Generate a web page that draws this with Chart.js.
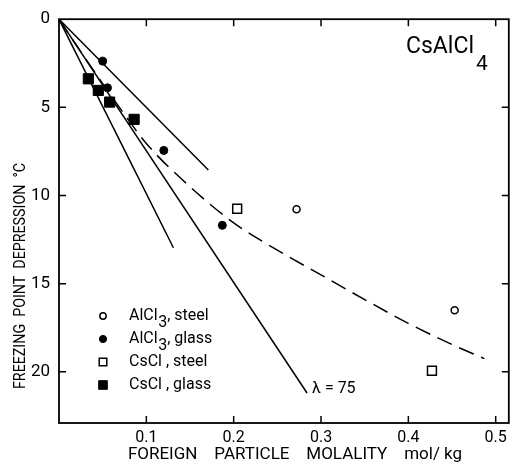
<!DOCTYPE html>
<html><head><meta charset="utf-8">
<script src="https://cdn.jsdelivr.net/npm/chart.js@4.4.1/dist/chart.umd.min.js"></script>
<style>html,body{margin:0;padding:0;background:#fff;} canvas{display:block;}</style>
</head><body>
<canvas id="c" width="517" height="472"></canvas>
<script>
// ---- data ----
const xTicks = [0.1, 0.2, 0.3, 0.4, 0.5];
const yTicks = [5, 10, 15, 20];
const alcl3SteelX = [0.272, 0.453];
const alcl3SteelY = [10.78, 16.5];
const alcl3GlassX = [0.050, 0.0555, 0.120, 0.187];
const alcl3GlassY = [2.38, 3.89, 7.44, 11.69];
const csclSteelX = [0.204, 0.427];
const csclSteelY = [10.75, 19.94];
const csclGlassX = [0.0336, 0.045, 0.058, 0.086];
const csclGlassY = [3.38, 4.04, 4.70, 5.68];
const line50X = [0, 0.171];
const line50Y = [0, 8.55];
const line100X = [0, 0.131];
const line100Y = [0, 12.96];
const line75X = [0, 0.284];
const line75Y = [0, 21.2];
const curveX = [0, 0.025, 0.05, 0.075, 0.1, 0.15, 0.2, 0.25, 0.3, 0.35, 0.4, 0.45, 0.487];
const curveY = [0, 1.85, 3.65, 5.4, 7.05, 9.5, 11.55, 13.1, 14.5, 15.9, 17.25, 18.45, 19.25];
const legendBase = ['AlCl', 'AlCl', 'CsCl', 'CsCl'];
const legendSub = ['3', '3', '', ''];
const legendRest = [', steel', ', glass', ' , steel', ' , glass'];
const lineLabel = 'λ = 75';
const chartTitle = 'CsAlCl';
const chartTitleSub = '4';
const xTitle = 'FOREIGN    PARTICLE    MOLALITY    mol/ kg';
const yTitle = 'FREEZING  POINT  DEPRESSION  °C';

const FONT = "Roboto, 'DejaVu Sans', sans-serif";
const pts = (xs, ys) => xs.map((x, i) => ({x: x, y: ys[i]}));

const markerStyles = [
  {pointStyle: 'circle', radius: 3.5, fill: '#fff', border: 1.5},
  {pointStyle: 'circle', radius: 4, fill: '#000', border: 1},
  {pointStyle: 'rect', radius: 6.3, fill: '#fff', border: 1.5},
  {pointStyle: 'rect', radius: 7.2, fill: '#000', border: 1}
];
const seriesX = [alcl3SteelX, alcl3GlassX, csclSteelX, csclGlassX];
const seriesY = [alcl3SteelY, alcl3GlassY, csclSteelY, csclGlassY];

const lineDs = (xs, ys, dash, extra) => Object.assign({
  data: pts(xs, ys), showLine: true, borderColor: '#000', borderWidth: 1.5,
  pointRadius: 0, borderDash: dash, fill: false
}, extra || {});

const datasets = [
  lineDs(line50X, line50Y, []),
  lineDs(line100X, line100Y, []),
  lineDs(line75X, line75Y, []),
  lineDs(curveX, curveY, [16, 8], {cubicInterpolationMode: 'monotone'})
];
seriesX.forEach((xs, i) => {
  const m = markerStyles[i];
  datasets.push({
    data: pts(xs, seriesY[i]), showLine: false, pointStyle: m.pointStyle,
    pointRadius: m.radius, backgroundColor: m.fill, borderColor: '#000', borderWidth: m.border
  });
});

const decor = {
  id: 'decor',
  afterDraw(chart) {
    const ctx = chart.ctx, a = chart.chartArea;
    const xs = chart.scales.x, ys = chart.scales.y;
    ctx.save();
    ctx.strokeStyle = '#000';
    ctx.lineWidth = 1.8;
    ctx.strokeRect(a.left, a.top, a.right - a.left, a.bottom - a.top);
    ctx.lineWidth = 1.5;
    const tl = 7;
    ctx.beginPath();
    xTicks.forEach(v => {
      const p = xs.getPixelForValue(v);
      ctx.moveTo(p, a.top); ctx.lineTo(p, a.top + tl);
      ctx.moveTo(p, a.bottom); ctx.lineTo(p, a.bottom - tl);
    });
    yTicks.forEach(v => {
      const p = ys.getPixelForValue(v);
      ctx.moveTo(a.left, p); ctx.lineTo(a.left + tl, p);
      ctx.moveTo(a.right, p); ctx.lineTo(a.right - tl, p);
    });
    ctx.stroke();

    ctx.fillStyle = '#000';
    // axis titles
    ctx.font = '17px ' + FONT;
    ctx.textAlign = 'center';
    ctx.textBaseline = 'middle';
    ctx.fillText(xTitle, 295, 455);
    ctx.save();
    ctx.translate(21, 276);
    ctx.rotate(-Math.PI / 2);
    ctx.font = '17px ' + FONT;
    ctx.fillText(yTitle, 0, 0, 226);
    ctx.restore();

    // title
    ctx.textAlign = 'left';
    ctx.textBaseline = 'alphabetic';
    ctx.font = '23px ' + FONT;
    const tx = 406;
    ctx.fillText(chartTitle, tx, 53);
    const tw = ctx.measureText(chartTitle).width;
    ctx.font = '21px ' + FONT;
    ctx.fillText(chartTitleSub, tx + tw + 2, 70);

    // lambda label
    const ex = xs.getPixelForValue(line75X[1]), ey = ys.getPixelForValue(line75Y[1]);
    ctx.font = '16px ' + FONT;
    ctx.textBaseline = 'middle';
    ctx.fillText(lineLabel, ex + 5, ey - 4);

    // legend
    const rowY = [316, 339, 362, 385];
    const mx = 103, txl = 129;
    legendBase.forEach((b, i) => {
      const m = markerStyles[i];
      const lr = m.pointStyle === 'rect' ? m.radius * 0.85 : m.radius * 0.9;
      ctx.fillStyle = m.fill; ctx.strokeStyle = '#000'; ctx.lineWidth = m.border;
      Chart.helpers.drawPoint(ctx, {pointStyle: m.pointStyle, radius: lr, rotation: 0, borderWidth: m.border}, mx, rowY[i]);
      ctx.fillStyle = '#000';
      ctx.font = '16px ' + FONT;
      ctx.textBaseline = 'middle';
      let x = txl;
      ctx.fillText(b, x, rowY[i]);
      x += ctx.measureText(b).width;
      if (legendSub[i]) {
        ctx.fillText(legendSub[i], x + 0.5, rowY[i] + 7);
        x += ctx.measureText(legendSub[i]).width + 0.5;
      }
      ctx.fillText(legendRest[i], x, rowY[i]);
    });
    ctx.restore();
  }
};

new Chart(document.getElementById('c'), {
  type: 'scatter',
  data: {datasets: datasets},
  options: {
    responsive: false, animation: false, devicePixelRatio: 1,
    layout: {padding: {top: 18, right: 4, left: 0, bottom: 0}},
    plugins: {legend: {display: false}, tooltip: {enabled: false}},
    scales: {
      x: {
        type: 'linear', min: 0, max: 0.515,
        grid: {display: false, drawTicks: false}, border: {display: false},
        ticks: {stepSize: 0.1, includeBounds: false, color: '#000', padding: 5,
          font: {family: FONT, size: 16},
          callback: v => Math.abs(v) < 1e-9 ? '' : v.toFixed(1)},
        title: {display: false},
        afterFit: s => { s.height = 49; }
      },
      y: {
        type: 'linear', min: 0, max: 22.9, reverse: true,
        grid: {display: false, drawTicks: false}, border: {display: false},
        ticks: {stepSize: 5, includeBounds: false, color: '#000', padding: 9,
          font: {family: FONT, size: 17}},
        title: {display: false},
        afterFit: s => { s.width = 59; }
      }
    }
  },
  plugins: [decor]
});
</script>
</body></html>
